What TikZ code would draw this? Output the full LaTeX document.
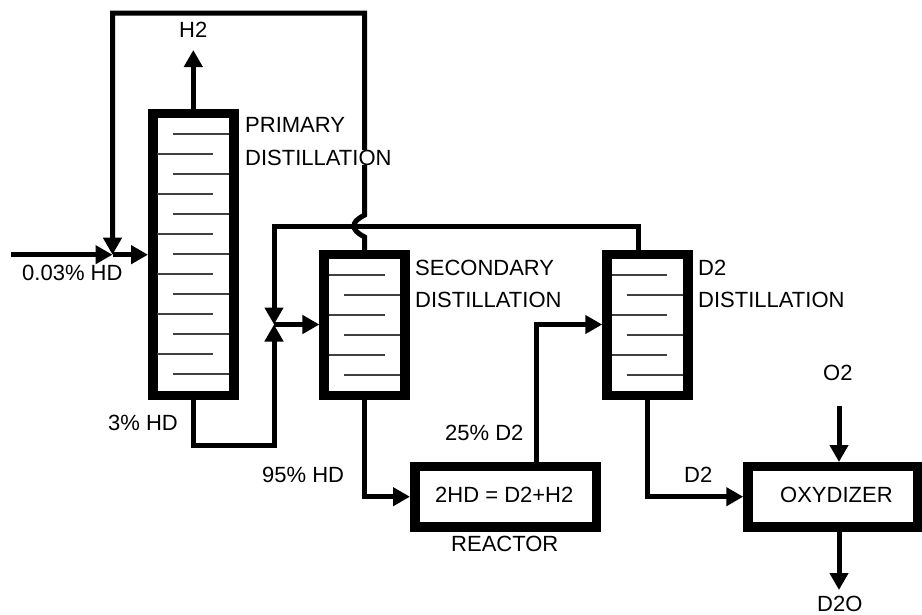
\documentclass[tikz,border=0pt]{standalone}
\usepackage{fontspec}
\setmainfont{Liberation Sans}
\usetikzlibrary{arrows.meta}
\tikzset{
  unit/.style={draw, line width=9.5pt, inner sep=0pt, minimum width=#1},
  column/.style={unit=81pt, minimum height=#1},
  vessel/.style={unit=#1, minimum height=60.5pt},
  pipe/.style={line width=5pt, -{Triangle[length=17pt,width=18pt]}},
  line/.style={line width=5pt},
  tray/.style={line width=1.3pt, black!75},
  lab/.style={inner sep=0pt, anchor=base west, font=\fontsize{22pt}{22pt}\selectfont}}

\begin{document}
\begin{tikzpicture}[x=1pt,y=-1pt]
	\useasboundingbox (0,0) rectangle (922,614);
	\node [column=282pt] (primary) at (193.3,254.5) {};
	\node [column=141pt] (secondary) at (364.7,325.2) {};
	\node [column=141pt] (dtwo) at (647.5,325.2) {};
	\node [vessel=181.5pt] (reactor) at (505.5,496.7) {};
	\node [vessel=170pt] (oxydizer) at (833,496.7) {};
	% free ends
	\coordinate (h2) at (193.3,50);
	\coordinate (feed) at (11,254.7);
	\coordinate (mix) at (112.5,254.7);
	\coordinate (valve) at (274,324.5);
	\coordinate (o2) at (839,406);
	\coordinate (d2o) at (839,590);
	% trays
	\foreach \y in {134,174,...,374} \draw [tray] (173,\y) -- (229,\y);
	\foreach \y in {154,194,...,354} \draw [tray] (157,\y) -- (213,\y);
	\foreach \y in {275,315,355} \draw [tray] (329,\y) -- (385,\y);
	\foreach \y in {295,335,375} \draw [tray] (344,\y) -- (400,\y);
	\foreach \y in {275,315,355} \draw [tray] (612,\y) -- (667,\y);
	\foreach \y in {295,335,375} \draw [tray] (627,\y) -- (683,\y);
	% streams
	\draw [pipe] (primary.north) -- (h2);
	\draw [line] (secondary.north) -- (364.7,237) .. controls (357,233) and (354,230) .. (354,226) .. controls (354,222) and (357,219) .. (364.7,215) -- (364.7,13) -- (112.5,13) -- (112.5,240);
	\draw [pipe] (112.5,20) -- (mix);
	\draw [pipe] (feed) -- (mix);
	\draw [pipe] (mix) -- (primary.west |- mix);
	\draw [line] (dtwo.north -| 638,0) -- (638,226) -- (274,226) -- (274,300);
	\draw [pipe] (274,290) -- (valve);
	\draw [line] (primary.south) -- (193.3,445) -- (274,445) -- (274,350);
	\draw [pipe] (274,360) -- (valve);
	\draw [pipe] (valve) -- (secondary.west |- valve);
	\draw [pipe] (secondary.south) |- (reactor.west);
	\draw [pipe] (reactor.north -| 536,0) -- (536,324.5) -- (dtwo.west |- valve);
	\draw [pipe] (dtwo.south) |- (oxydizer.west);
	\draw [pipe] (o2) -- (839,462);
	\draw [pipe] (oxydizer.south -| 839,0) -- (d2o);
	% labels
	\node [lab] (lh2) at (179,37) {H2};
	\node [lab] (lprimary) at (245,132) {PRIMARY};
	\node [lab, fill=white] (ldist) at (245,165) {DISTILLATION};
	\node [lab] (lfeed) at (22,280) {0.03\% HD};
	\node [lab] (lthree) at (108,430) {3\% HD};
	\node [lab] (lsecondary) at (415,275) {SECONDARY};
	\node [lab] (ldistb) at (415,307) {DISTILLATION};
	\node [lab] (ldtwo) at (698,275) {D2};
	\node [lab] (ldistc) at (698,307) {DISTILLATION};
	\node [lab] (lo2) at (823,380) {O2};
	\node [lab] (ldtwob) at (445,440) {25\% D2};
	\node [lab] (lninefive) at (262,482) {95\% HD};
	\node [lab] (ld) at (684,482) {D2};
	\node [lab] (lreact) at (435,502) {2HD = D2+H2};
	\node [lab] (loxy) at (780,502) {OXYDIZER};
	\node [lab] (lreactor) at (451,551) {REACTOR};
	\node [lab] (ldto) at (817,611) {D2O};
\end{tikzpicture}
\end{document}
